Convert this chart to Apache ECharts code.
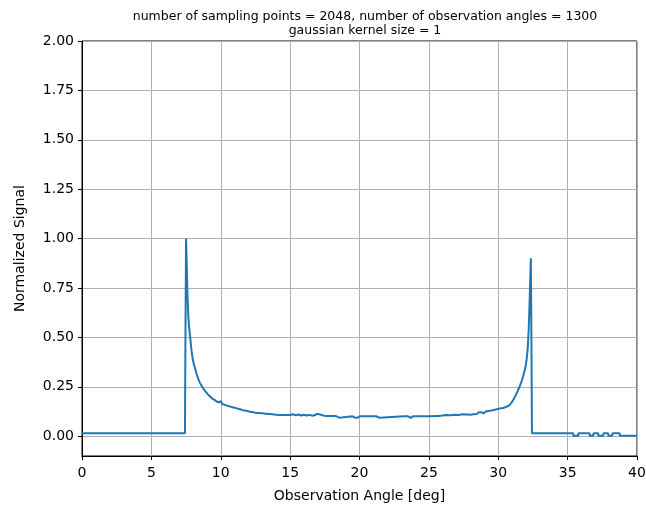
<!DOCTYPE html>
<html>
<head>
<meta charset="utf-8">
<script src="https://cdn.jsdelivr.net/npm/echarts@6/dist/echarts.min.js"></script>
<style>
  html, body { margin: 0; padding: 0; background: #fff; }
  #chart { width: 646px; height: 510px; }
</style>
</head>
<body>
<div id="chart"></div>
<script>
// Observation angle in degrees (10 values per row)
const angles = [
  0.00, 7.42, 7.46, 7.50, 7.55, 7.60, 7.66, 7.72, 7.80, 7.88,
  7.96, 8.04, 8.14, 8.26, 8.38, 8.50, 8.62, 8.75, 8.88, 9.00,
  9.08, 9.15, 9.25, 9.32, 9.40, 9.48, 9.55, 9.62, 9.70, 9.78,
  9.85, 9.95, 10.02, 10.10, 10.18, 10.25, 10.32, 10.40, 10.48, 10.55,
  10.62, 10.70, 10.78, 10.85, 10.92, 11.00, 11.08, 11.15, 11.22, 11.30,
  11.38, 11.45, 11.52, 11.60, 11.68, 11.75, 11.82, 11.90, 11.98, 12.05,
  12.12, 12.20, 12.28, 12.35, 12.42, 12.50, 12.58, 12.65, 12.72, 12.80,
  12.88, 12.95, 13.02, 13.10, 13.18, 13.25, 13.32, 13.40, 13.48, 13.55,
  13.62, 13.70, 13.78, 13.85, 13.92, 14.00, 14.10, 14.20, 14.30, 14.40,
  14.50, 14.60, 14.70, 14.80, 14.90, 15.00, 15.20, 15.40, 15.60, 15.80,
  16.00, 16.20, 16.40, 16.60, 16.80, 16.95, 17.05, 17.50, 18.00, 18.30,
  18.40, 18.55, 18.65, 19.50, 19.70, 19.85, 20.00, 21.20, 21.30, 21.45,
  21.55, 23.20, 23.30, 23.50, 23.70, 23.85, 24.30, 24.40, 24.50, 25.00,
  25.05, 25.10, 25.60, 25.70, 25.80, 26.00, 26.10, 26.20, 26.60, 26.70,
  26.80, 27.20, 27.30, 27.40, 27.80, 27.90, 28.00, 28.10, 28.20, 28.30,
  28.45, 28.60, 28.70, 28.80, 28.95, 29.10, 29.20, 29.30, 29.40, 29.50,
  29.60, 29.70, 29.80, 29.90, 30.00, 30.10, 30.20, 30.35, 30.45, 30.55,
  30.65, 30.80, 30.95, 31.10, 31.25, 31.40, 31.55, 31.70, 31.82, 31.95,
  32.05, 32.13, 32.20, 32.26, 32.31, 32.35, 32.39, 32.43, 35.40, 35.42,
  35.76, 35.78, 36.58, 36.60, 36.84, 36.86, 37.20, 37.22, 37.56, 37.58,
  37.92, 37.94, 38.21, 38.23, 38.75, 38.77, 40.00
];

// Normalized signal at each angle (10 values per row)
const signal = [
  0.015, 0.015, 0.550, 1.000, 0.860, 0.720, 0.610, 0.550, 0.500, 0.440,
  0.400, 0.370, 0.345, 0.315, 0.290, 0.270, 0.255, 0.240, 0.228, 0.220,
  0.212, 0.206, 0.200, 0.204, 0.190, 0.197, 0.184, 0.192, 0.176, 0.184,
  0.172, 0.168, 0.178, 0.163, 0.172, 0.160, 0.170, 0.156, 0.166, 0.153,
  0.162, 0.150, 0.160, 0.147, 0.157, 0.144, 0.154, 0.141, 0.151, 0.138,
  0.148, 0.135, 0.144, 0.132, 0.142, 0.130, 0.140, 0.128, 0.137, 0.125,
  0.134, 0.123, 0.133, 0.121, 0.131, 0.119, 0.129, 0.118, 0.128, 0.117,
  0.127, 0.116, 0.126, 0.115, 0.125, 0.114, 0.124, 0.113, 0.122, 0.112,
  0.121, 0.111, 0.120, 0.110, 0.118, 0.109, 0.117, 0.108, 0.116, 0.107,
  0.115, 0.107, 0.114, 0.107, 0.113, 0.107, 0.111, 0.106, 0.110, 0.105,
  0.109, 0.105, 0.108, 0.104, 0.107, 0.114, 0.104, 0.103, 0.103, 0.102,
  0.094, 0.094, 0.102, 0.101, 0.093, 0.093, 0.101, 0.101, 0.093, 0.093,
  0.101, 0.101, 0.094, 0.101, 0.093, 0.101, 0.101, 0.094, 0.101, 0.101,
  0.109, 0.102, 0.103, 0.109, 0.103, 0.105, 0.099, 0.107, 0.106, 0.101,
  0.109, 0.108, 0.103, 0.111, 0.110, 0.117, 0.109, 0.118, 0.111, 0.120,
  0.112, 0.121, 0.113, 0.122, 0.115, 0.125, 0.117, 0.128, 0.119, 0.130,
  0.122, 0.133, 0.126, 0.137, 0.130, 0.140, 0.134, 0.143, 0.140, 0.148,
  0.146, 0.156, 0.170, 0.186, 0.206, 0.228, 0.254, 0.282, 0.310, 0.345,
  0.390, 0.450, 0.550, 0.680, 0.800, 0.900, 0.500, 0.015, 0.015, 0.002,
  0.002, 0.015, 0.015, 0.002, 0.002, 0.015, 0.015, 0.002, 0.002, 0.015,
  0.015, 0.002, 0.002, 0.015, 0.015, 0.002, 0.002
];

// Axis ticks
const xTicks = [0, 5, 10, 15, 20, 25, 30, 35, 40];
const yTicks = [0, 0.25, 0.5, 0.75, 1.0, 1.25, 1.5, 1.75, 2.0];

const FONT = 'DejaVu Sans';
const points = angles.map((a, i) => [a, signal[i]]);

const chart = echarts.init(document.getElementById('chart'), null, { renderer: 'canvas' });
chart.setOption({
  animation: false,
  backgroundColor: '#ffffff',
  title: {
    text: 'number of sampling points = 2048, number of observation angles = 1300\ngaussian kernel size = 1',
    left: 360,
    top: 5,
    textAlign: 'center',
    textStyle: { fontFamily: FONT, fontSize: 12.5, fontWeight: 'normal', color: '#000', lineHeight: 14 }
  },
  grid: {
    left: 82, right: 9, top: 41, bottom: 54,
    outerBoundsMode: 'none',
    containLabel: false,
    show: true, borderColor: '#000', borderWidth: 1, backgroundColor: 'transparent'
  },
  xAxis: {
    type: 'value',
    min: 0, max: 40, interval: 5,
    name: 'Observation Angle [deg]',
    nameLocation: 'middle',
    nameGap: 33,
    nameTextStyle: { fontFamily: FONT, fontSize: 14, color: '#000' },
    axisLine: { show: true, onZero: false, lineStyle: { color: '#000', width: 1 } },
    axisTick: { show: true, inside: false, length: 4, lineStyle: { color: '#000' }, customValues: xTicks },
    axisLabel: { fontFamily: FONT, fontSize: 14, color: '#000', margin: 10, customValues: xTicks },
    splitLine: { show: true, lineStyle: { color: '#b0b0b0', width: 1 } }
  },
  yAxis: {
    type: 'value',
    min: -0.1, max: 2.0,
    name: 'Normalized Signal',
    nameLocation: 'middle',
    nameGap: 55,
    nameTextStyle: { fontFamily: FONT, fontSize: 14, color: '#000' },
    axisLine: { show: true, onZero: false, lineStyle: { color: '#000', width: 1 } },
    axisTick: { show: true, inside: false, length: 4, lineStyle: { color: '#000' }, customValues: yTicks },
    axisLabel: {
      fontFamily: FONT, fontSize: 14, color: '#000', margin: 8,
      customValues: yTicks,
      formatter: v => v.toFixed(2)
    },
    splitLine: { show: true, lineStyle: { color: '#b0b0b0', width: 1 } }
  },
  series: [{
    type: 'line',
    data: points,
    showSymbol: false,
    symbol: 'none',
    lineStyle: { color: '#1f77b4', width: 2 },
    z: 3
  }]
});
</script>
</body>
</html>
